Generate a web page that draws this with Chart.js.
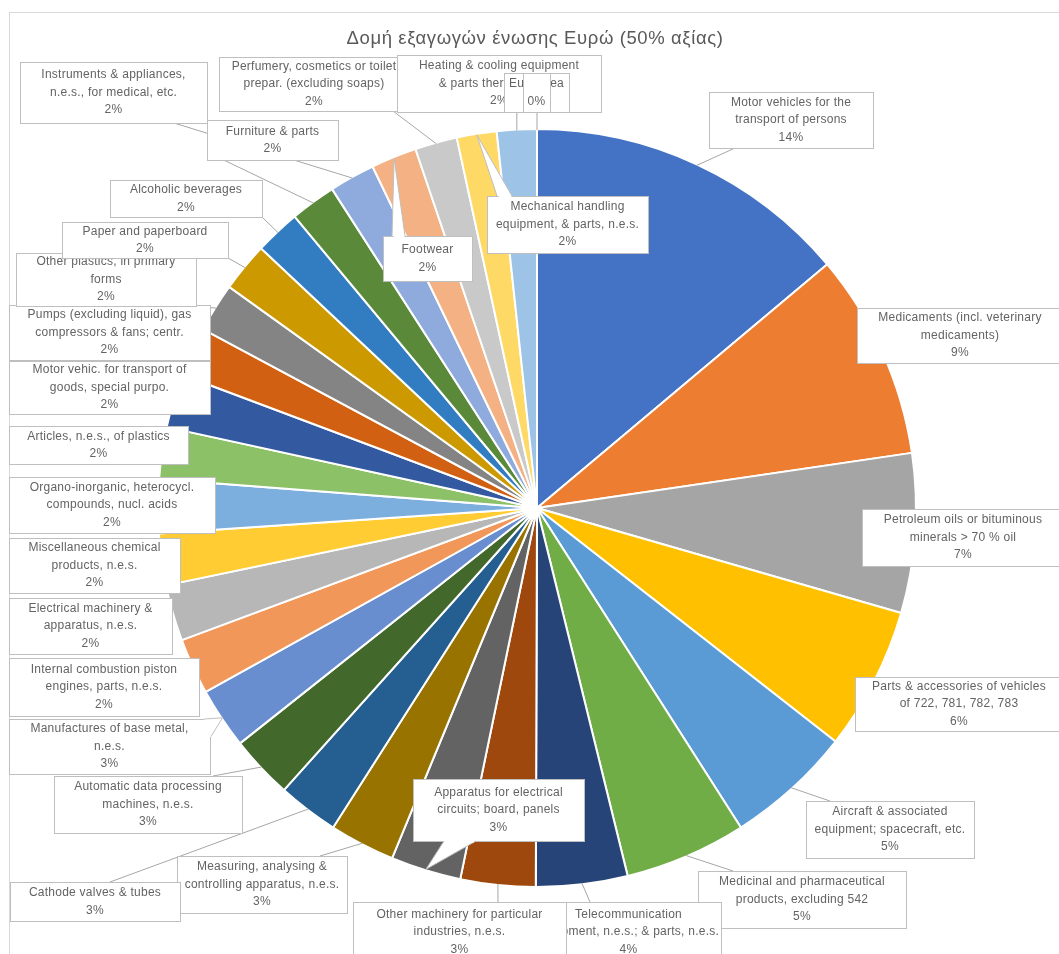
<!DOCTYPE html>
<html>
<head>
<meta charset="utf-8">
<script src="https://cdn.jsdelivr.net/npm/chart.js@4.4.0/dist/chart.umd.min.js"></script>
<style>
  html, body { margin: 0; padding: 0; background: #fff; }
  #wrap { position: relative; width: 1059px; height: 954px; }
</style>
</head>
<body>
<div id="wrap"><canvas id="pie" width="1059" height="954"></canvas></div>
<script>
const chartTitle = 'Δομή εξαγωγών ένωσης Ευρώ (50% αξίας)';

// category names, already broken into the lines shown on the callouts
const categories = [
  ['Motor vehicles for the', 'transport of persons'],
  ['Medicaments (incl. veterinary', 'medicaments)'],
  ['Petroleum oils or bituminous', 'minerals > 70 % oil'],
  ['Parts & accessories of vehicles', 'of 722, 781, 782, 783'],
  ['Aircraft & associated', 'equipment; spacecraft, etc.'],
  ['Medicinal and pharmaceutical', 'products, excluding 542'],
  ['Telecommunication', 'equipment, n.e.s.; & parts, n.e.s.'],
  ['Other machinery for particular', 'industries, n.e.s.'],
  ['Apparatus for electrical', 'circuits; board, panels'],
  ['Measuring, analysing &', 'controlling apparatus, n.e.s.'],
  ['Cathode valves & tubes'],
  ['Automatic data processing', 'machines, n.e.s.'],
  ['Manufactures of base metal,', 'n.e.s.'],
  ['Internal combustion piston', 'engines, parts, n.e.s.'],
  ['Electrical machinery &', 'apparatus, n.e.s.'],
  ['Miscellaneous chemical', 'products, n.e.s.'],
  ['Organo-inorganic, heterocycl.', 'compounds, nucl. acids'],
  ['Articles, n.e.s., of plastics'],
  ['Motor vehic. for transport of', 'goods, special purpo.'],
  ['Pumps (excluding liquid), gas', 'compressors & fans; centr.'],
  ['Other plastics, in primary', 'forms'],
  ['Paper and paperboard'],
  ['Alcoholic beverages'],
  ['Furniture & parts'],
  ['Instruments & appliances,', 'n.e.s., for medical, etc.'],
  ['Footwear'],
  ['Perfumery, cosmetics or toilet', 'prepar. (excluding soaps)'],
  ['Mechanical handling', 'equipment, & parts, n.e.s.'],
  ['Heating & cooling equipment', '& parts thereof, n.e.s.'],
  ['Euro area']
];

// share of exports, %
const shares = [
  13.9, 8.8, 6.8, 6.1, 5.4, 5.2, 3.9,
  3.2, 3.0, 2.8, 2.6, 2.7, 2.6,
  2.4, 2.4, 2.2, 2.3, 2.2, 2.3, 2.1, 2.1, 2.1,
  1.95, 1.95, 1.95, 1.95, 1.8, 1.7, 1.7, 0
];

const sliceColors = [
  '#4472C4', '#ED7D31', '#A5A5A5', '#FFC000', '#5B9BD5', '#70AD47',
  '#264478', '#9E480E', '#636363', '#997300', '#255E91', '#43682B',
  '#698ED0', '#F1975A', '#B7B7B7', '#FFCD33', '#7CAFDD', '#8CC168',
  '#335AA1', '#D26012', '#848484', '#CC9A00', '#327DC2', '#5A8A39',
  '#8FAADC', '#F4B183', '#C9C9C9', '#FFD966', '#9DC3E6', '#A9D18E'
];

// callout boxes, same order as the data (x, y, w, h in px)
// lead: 'line' | 'pointer' | 'none'; ax/ay = where the leader leaves the box
const labelBoxes = [
  { x: 709, y: 92,  w: 164, h: 56, lead: 'line', ax: 735, ay: 148 },
  { x: 857, y: 308, w: 206, h: 55, lead: 'none' },
  { x: 862, y: 509, w: 202, h: 57, lead: 'none' },
  { x: 855, y: 677, w: 208, h: 54, lead: 'none' },
  { x: 806, y: 801, w: 168, h: 57, lead: 'line', ax: 830, ay: 801 },
  { x: 698, y: 871, w: 208, h: 57, lead: 'line', ax: 733, ay: 871 },
  { x: 536, y: 902, w: 185, h: 60, lead: 'line', ax: 590, ay: 902 },
  { x: 353, y: 902, w: 213, h: 60, lead: 'line', ax: 498, ay: 902 },
  { x: 413, y: 779, w: 171, h: 62, lead: 'pointer', base: [444, 841, 476, 841] },
  { x: 177, y: 856, w: 170, h: 57, lead: 'line', ax: 320, ay: 856 },
  { x: 10,  y: 882, w: 170, h: 39, lead: 'line', ax: 110, ay: 882 },
  { x: 54,  y: 776, w: 188, h: 57, lead: 'line', ax: 213, ay: 776 },
  { x: 9,   y: 719, w: 201, h: 55, lead: 'pointer', base: [204, 719, 210, 738] },
  { x: 9,   y: 658, w: 190, h: 58, lead: 'none' },
  { x: 9,   y: 598, w: 163, h: 56, lead: 'none' },
  { x: 9,   y: 538, w: 171, h: 55, lead: 'none' },
  { x: 9,   y: 477, w: 206, h: 56, lead: 'none' },
  { x: 9,   y: 426, w: 179, h: 38, lead: 'none' },
  { x: 9,   y: 361, w: 201, h: 53, lead: 'none' },
  { x: 9,   y: 305, w: 201, h: 55, lead: 'none' },
  { x: 16,  y: 253, w: 180, h: 53, lead: 'line' },
  { x: 62,  y: 222, w: 166, h: 36, lead: 'line' },
  { x: 110, y: 180, w: 152, h: 37, lead: 'line' },
  { x: 207, y: 120, w: 131, h: 40, lead: 'line', ax: 207, ay: 152 },
  { x: 20,  y: 62,  w: 187, h: 61, lead: 'line', ax: 174, ay: 123 },
  { x: 383, y: 236, w: 89,  h: 45, lead: 'pointer', base: [392, 236, 405, 236] },
  { x: 219, y: 57,  w: 190, h: 54, lead: 'line', ax: 393, ay: 111 },
  { x: 487, y: 196, w: 161, h: 57, lead: 'pointer', base: [497, 196, 512, 196] },
  { x: 397, y: 55,  w: 204, h: 57, lead: 'line' },
  { x: 504, y: 73,  w: 65,  h: 39, lead: 'line', cover: [523, 73, 27, 39] }
];

const textColor = '#636363';
const lineColor = '#A6A6A6';
const boxColor = '#BFBFBF';
const labelFont = '12px "Liberation Sans", Arial, sans-serif';
const lineStep = 17.5;

function sliceEdge(arc) {
  const mid = (arc.startAngle + arc.endAngle) / 2;
  const r = arc.outerRadius - 1;
  return { x: arc.x + Math.cos(mid) * r, y: arc.y + Math.sin(mid) * r };
}

function writeLines(ctx, lines, cx, y, h) {
  const top = y + (h - lines.length * lineStep) / 2 + lineStep / 2;
  lines.forEach((t, k) => ctx.fillText(t, cx, top + k * lineStep));
}

const calloutPlugin = {
  id: 'callouts',
  beforeDraw(chart) {
    const ctx = chart.ctx;
    ctx.save();
    ctx.strokeStyle = '#D9D9D9';
    ctx.lineWidth = 1;
    ctx.strokeRect(9.5, 12.5, 1100, 1000);
    ctx.fillStyle = '#595959';
    ctx.font = '18.5px "Liberation Sans", Arial, sans-serif';
    ctx.letterSpacing = '0.6px';
    ctx.textAlign = 'center';
    ctx.textBaseline = 'middle';
    ctx.fillText(chartTitle, 535, 39);
    ctx.restore();
  },
  afterDraw(chart) {
    const ctx = chart.ctx;
    const arcs = chart.getDatasetMeta(0).data;
    const total = shares.reduce((a, b) => a + b, 0);
    ctx.save();

    // leader lines first, boxes are drawn over them
    ctx.strokeStyle = lineColor;
    ctx.lineWidth = 1;
    labelBoxes.forEach((b, i) => {
      if (b.lead !== 'line') return;
      const p = sliceEdge(arcs[i]);
      let ax = b.ax, ay = b.ay;
      if (ax === undefined) {
        ax = Math.min(Math.max(p.x, b.x), b.x + b.w);
        ay = Math.min(Math.max(p.y, b.y), b.y + b.h);
      }
      ctx.beginPath();
      ctx.moveTo(ax, ay);
      ctx.lineTo(p.x, p.y);
      ctx.stroke();
    });

    ctx.font = labelFont;
    ctx.letterSpacing = '0.25px';
    ctx.textAlign = 'center';
    ctx.textBaseline = 'middle';
    labelBoxes.forEach((b, i) => {
      const pct = Math.round(shares[i] / total * 100) + '%';
      ctx.fillStyle = '#fff';
      ctx.fillRect(b.x, b.y, b.w, b.h);
      ctx.strokeStyle = boxColor;
      ctx.strokeRect(b.x + 0.5, b.y + 0.5, b.w, b.h);
      if (b.lead === 'pointer') {
        const p = sliceEdge(arcs[i]);
        const [x1, y1, x2, y2] = b.base;
        ctx.fillStyle = '#fff';
        ctx.beginPath();
        ctx.moveTo(x1, y1);
        ctx.lineTo(p.x, p.y);
        ctx.lineTo(x2, y2);
        ctx.closePath();
        ctx.fill();
        ctx.beginPath();
        ctx.moveTo(x1, y1);
        ctx.lineTo(p.x, p.y);
        ctx.lineTo(x2, y2);
        ctx.stroke();
        // open the box edge under the pointer
        ctx.strokeStyle = '#fff';
        ctx.lineWidth = 2;
        ctx.beginPath();
        ctx.moveTo(x1 + (x2 - x1) * 0.08 + 0.5, y1 + (y2 - y1) * 0.08 + 0.5);
        ctx.lineTo(x2 - (x2 - x1) * 0.08 + 0.5, y2 - (y2 - y1) * 0.08 + 0.5);
        ctx.stroke();
        ctx.lineWidth = 1;
      }
      ctx.fillStyle = textColor;
      writeLines(ctx, categories[i].concat([pct]), b.x + b.w / 2, b.y, b.h);
      if (b.cover) {
        const [cx, cy, cw, ch] = b.cover;
        ctx.fillStyle = '#fff';
        ctx.fillRect(cx, cy, cw, ch);
        ctx.strokeStyle = boxColor;
        ctx.strokeRect(cx + 0.5, cy + 0.5, cw, ch);
        ctx.fillStyle = textColor;
        writeLines(ctx, ['', pct], cx + cw / 2, cy, ch);
      }
    });
    ctx.restore();
  }
};

const ctx = document.getElementById('pie').getContext('2d');
new Chart(ctx, {
  type: 'pie',
  data: {
    labels: categories,
    datasets: [{
      data: shares,
      backgroundColor: sliceColors,
      borderColor: '#ffffff',
      borderWidth: 2
    }]
  },
  options: {
    responsive: false,
    animation: false,
    layout: { padding: { top: 128, bottom: 66, left: 157, right: 142 } },
    plugins: {
      legend: { display: false },
      tooltip: { enabled: false }
    }
  },
  plugins: [calloutPlugin]
});
</script>
</body>
</html>
